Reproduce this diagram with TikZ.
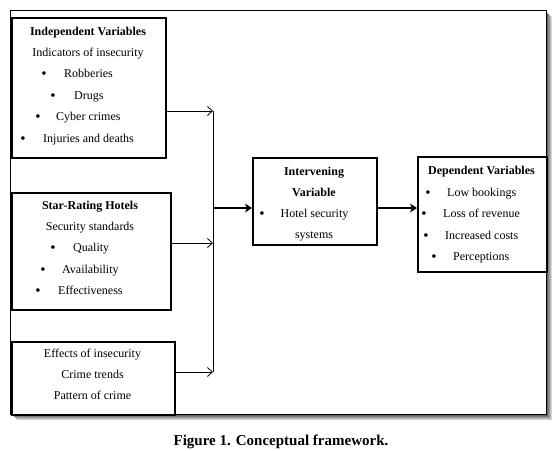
\documentclass[tikz,border=0pt]{standalone}
\usepackage{fontspec}
\setmainfont{Liberation Serif}
\usetikzlibrary{arrows.meta}
\begin{document}
\begin{tikzpicture}[x=1pt,y=-1pt,
  box/.style={draw, line width=2.4pt, anchor=north west, inner sep=0},
  txt/.style={anchor=base, inner sep=0, font=\fontsize{12}{14}\selectfont},
  btxt/.style={anchor=base, inner sep=0, font=\fontsize{12}{14}\selectfont\bfseries},
  ltxt/.style={anchor=base west, inner sep=0, font=\fontsize{12}{14}\selectfont},
  bul/.style={anchor=base, inner sep=0, font=\fontsize{15}{14}\selectfont, yshift=-0.8pt},
  thinarr/.style={line width=0.8pt, -{Straight Barb[length=5pt,width=9pt,line width=0.8pt]}},
  thickarr/.style={line width=2.4pt, -{Stealth[length=7pt,width=9pt,inset=2pt]}}]
\useasboundingbox (0,0) rectangle (559,450);
% shadow of frame
\foreach \i/\g in {1/60,2/50,3/40,4/28,5/16}{
  \draw[black!\g, line width=1pt] (546+\i,12+\i) -- (546+\i,414+\i) -- (12+\i,414+\i);
}
\node[draw, line width=1.2pt, anchor=north west, minimum width=536pt, minimum height=404pt, inner sep=0, fill=white] (frame) at (10,10) {};
% boxes
\node[box, minimum width=154pt, minimum height=140pt] (b1) at (11,17) {};
\node[box, minimum width=159pt, minimum height=117pt] (b2) at (11,192) {};
\node[box, minimum width=163pt, minimum height=73pt] (b3) at (11,341) {};
\node[box, minimum width=124pt, minimum height=87pt] (iv) at (252,157) {};
\node[box, minimum width=129pt, minimum height=115pt] (dv) at (417,156) {};
% box 1 text
\node[btxt] (t11) at (88,35.2) {Independent Variables};
\node[txt] (t12) at (88,56.2) {Indicators of insecurity};
\node[bul] (u13) at (44,77.2) {•}; \node[ltxt] (t13) at (64,77.2) {Robberies};
\node[bul] (u14) at (53,99.2) {•}; \node[ltxt] (t14) at (74,99.2) {Drugs};
\node[bul] (u15) at (38,120.7) {•}; \node[ltxt] (t15) at (56,120.7) {Cyber crimes};
\node[bul] (u16) at (23,142.2) {•}; \node[ltxt] (t16) at (43,142.2) {Injuries and deaths};
% box 2 text
\node[btxt] (t21) at (90,209.2) {Star-Rating Hotels};
\node[txt] (t22) at (90,230.2) {Security standards};
\node[bul] (u23) at (53,251.7) {•}; \node[ltxt] (t23) at (73,251.7) {Quality};
\node[bul] (u24) at (43,273.2) {•}; \node[ltxt] (t24) at (62,273.2) {Availability};
\node[bul] (u25) at (38,294.2) {•}; \node[ltxt] (t25) at (58,294.2) {Effectiveness};
% box 3 text
\node[txt] (t31) at (92.5,357.2) {Effects of insecurity};
\node[txt] (t32) at (92.5,378.2) {Crime trends};
\node[txt] (t33) at (92.5,399.2) {Pattern of crime};
% intervening text
\node[btxt] (t41) at (314,175.2) {Intervening};
\node[btxt] (t42) at (314,196.2) {Variable};
\node[bul] (u43) at (262,217.2) {•}; \node[txt] (t43) at (314.5,217.2) {Hotel security};
\node[txt] (t44) at (314,238.2) {systems};
% dependent text
\node[btxt] (t51) at (481.5,174.2) {Dependent Variables};
\node[bul] (u52) at (428,196.2) {•}; \node[ltxt] (t52) at (447,196.2) {Low bookings};
\node[bul] (u53) at (424,217.2) {•}; \node[ltxt] (t53) at (443,217.2) {Loss of revenue};
\node[bul] (u54) at (426,239.2) {•}; \node[ltxt] (t54) at (445,239.2) {Increased costs};
\node[bul] (u55) at (434,260.7) {•}; \node[ltxt] (t55) at (453,260.7) {Perceptions};
% connectors
\coordinate (j1) at (213,111);
\coordinate (j2) at (213,243);
\coordinate (j3) at (213,372);
\coordinate (m) at (213,208);
\draw[line width=0.8pt] (j1) -- (j3);
\draw[thinarr] (b1.east |- j1) -- (j1);
\draw[thinarr] (b2.east |- j2) -- (j2);
\draw[thinarr] (b3.east |- j3) -- (j3);
\draw[thickarr] (m) -- (iv.west |- m);
\draw[thickarr] (iv.east |- m) -- (dv.west |- m);
% caption
\node[btxt, font=\fontsize{15}{17}\selectfont\bfseries] (cap) at (281,445) {Figure 1. Conceptual framework.};
\end{tikzpicture}
\end{document}
